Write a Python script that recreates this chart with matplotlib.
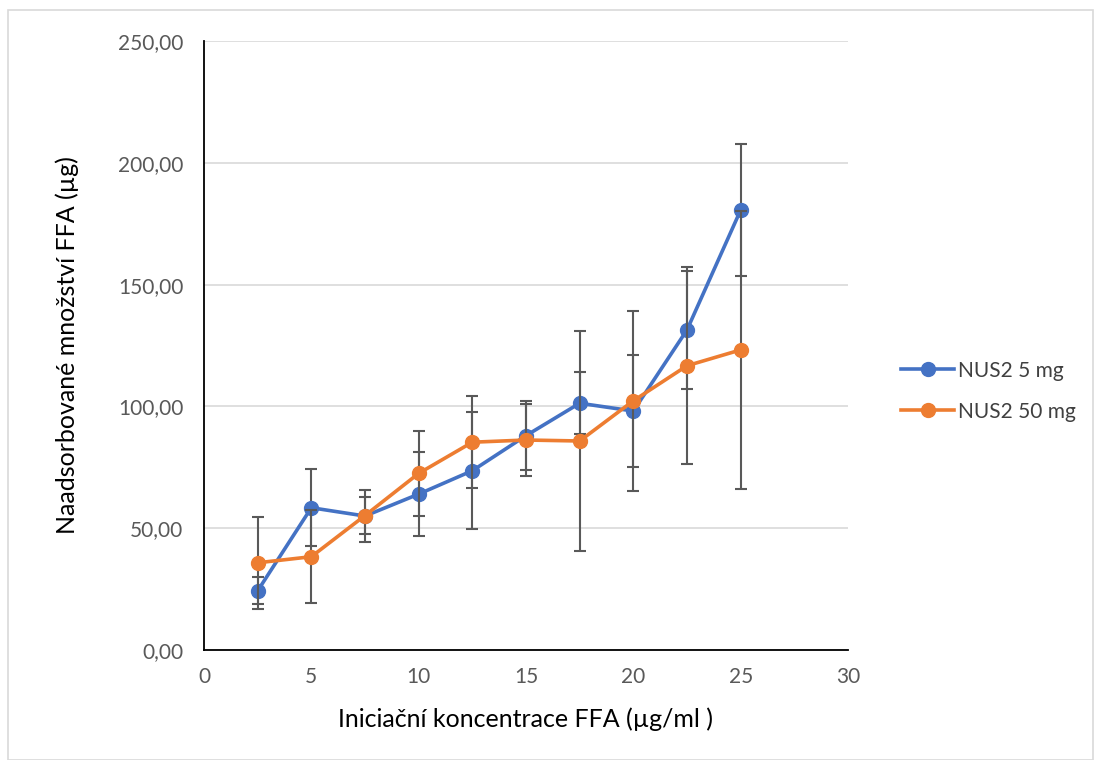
import matplotlib
matplotlib.use("Agg")
import matplotlib.pyplot as plt
from matplotlib.patches import Rectangle
from matplotlib.ticker import FuncFormatter, MultipleLocator

x = [2.5, 5, 7.5, 10, 12.5, 15, 17.5, 20, 22.5, 25]
nus2_5mg = [24.3, 58.4, 55.0, 64.0, 73.6, 88.0, 101.3, 98.1, 131.4, 180.6]
nus2_5mg_err = [5.6, 15.9, 10.5, 17.2, 23.9, 14.3, 12.8, 23.0, 24.3, 27.1]
nus2_50mg = [35.8, 38.3, 55.2, 72.5, 85.3, 86.2, 85.8, 102.3, 116.7, 123.2]
nus2_50mg_err = [19.0, 19.0, 7.7, 17.3, 18.9, 14.8, 45.0, 37.0, 40.4, 57.2]
labels = ["NUS2 5 mg", "NUS2 50 mg"]

plt.rcParams['font.family'] = ['Lato', 'DejaVu Sans']

fig = plt.figure(figsize=(10.94, 7.60), dpi=100)
ax = fig.add_axes([204/1094, 1-650/760, (848-204)/1094, (650-41)/760])

fig.patches.append(Rectangle((8/1094, 0.0), 1 - 8/1094 - 0.001, 1 - 10/760,
                             transform=fig.transFigure, fill=False,
                             edgecolor='#d9d9d9', linewidth=1.2))

colors = ['#4472c4', '#ed7d31']
for i, (y, e) in enumerate([(nus2_5mg, nus2_5mg_err), (nus2_50mg, nus2_50mg_err)]):
    ax.errorbar(x, y, yerr=e, fmt='none', ecolor='#595959', elinewidth=1.5,
                capsize=4.5, capthick=1.5, zorder=3 + 2*i)
    ax.plot(x, y, color=colors[i], linewidth=2.6, marker='o', markersize=10,
            label=labels[i], zorder=4 + 2*i)

ax.set_xlim(0, 30)
ax.set_ylim(0, 250)
ax.xaxis.set_major_locator(MultipleLocator(5))
ax.yaxis.set_major_locator(MultipleLocator(50))
ax.yaxis.set_major_formatter(FuncFormatter(lambda v, p: f"{v:.2f}".replace('.', ',')))
ax.grid(axis='y', color='#d9d9d9', linewidth=1.2, zorder=0)
ax.set_axisbelow(True)
for s in ['top', 'right']:
    ax.spines[s].set_visible(False)
ax.spines['left'].set_color('black')
ax.spines['bottom'].set_color('black')
ax.spines['left'].set_linewidth(1.3)
ax.spines['bottom'].set_linewidth(1.3)
ax.tick_params(length=0, labelsize=15, labelcolor='#595959')
ax.tick_params(axis='x', pad=12)
ax.tick_params(axis='y', pad=15)

ax.set_xlabel("Iniciační koncentrace FFA (µg/ml )", fontsize=18, labelpad=15)
ax.set_ylabel("Naadsorbované množství FFA (µg)", fontsize=18, labelpad=28)

leg = ax.legend(loc='center left', bbox_to_anchor=(1.0823, 0.425), frameon=False,
                fontsize=15, handlelength=2.55, handletextpad=0.2, labelspacing=1.0,
                borderaxespad=0, borderpad=0)
for t in leg.get_texts():
    t.set_color('#404040')

fig.savefig("out.png", dpi=100)
